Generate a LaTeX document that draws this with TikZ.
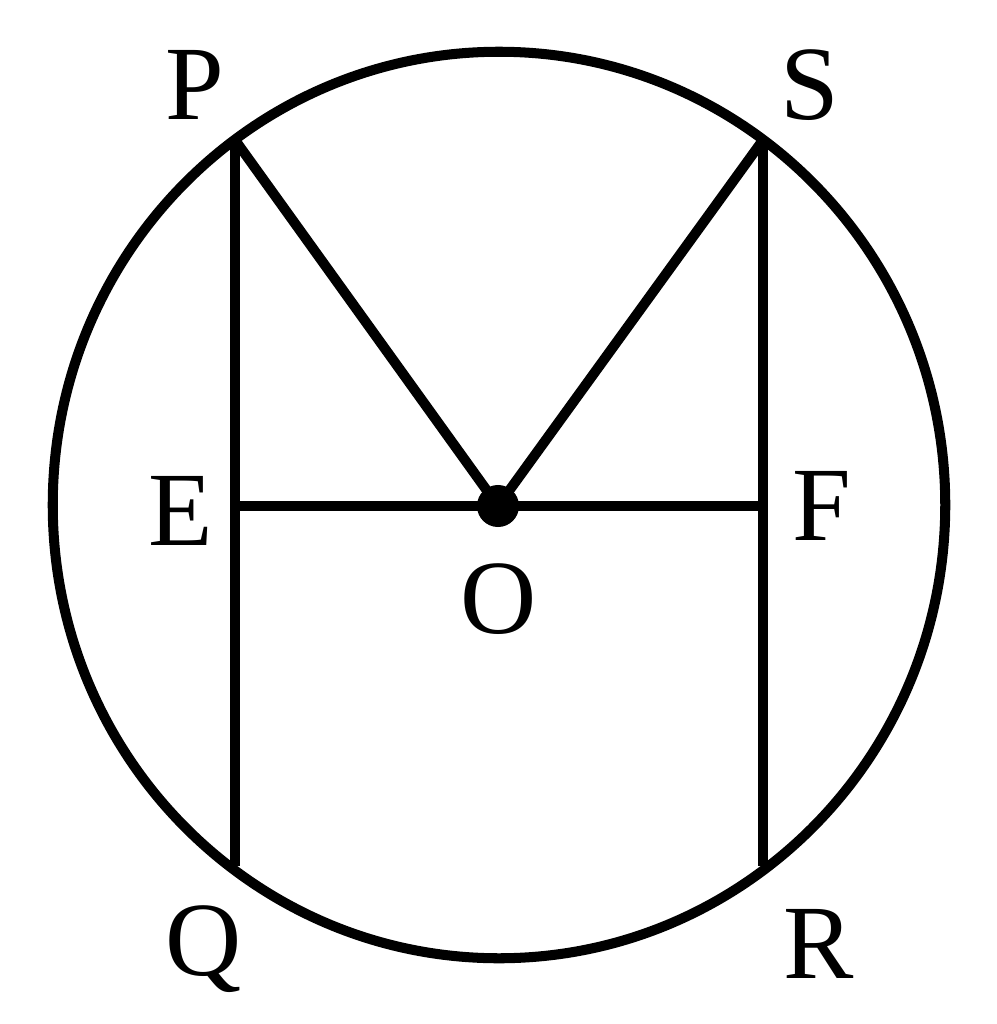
\documentclass[tikz,border=0pt]{standalone}
\usepackage{fontspec}
\setmainfont{Liberation Serif}

\begin{document}
\begin{tikzpicture}[x=0.01cm, y=-0.01cm, line width=2.85pt,
    ptname/.style={anchor=base, inner sep=0pt, font=\fontsize{30}{36}\selectfont}]

\useasboundingbox (0,0) rectangle (997,1024);

\coordinate (C) at (499, 505);
\coordinate (P) at (235, 140);
\coordinate (Q) at (235, 866);
\coordinate (S) at (763, 140);
\coordinate (R) at (763, 866);
\coordinate (E) at (235, 506);
\coordinate (F) at (763, 506);
\coordinate (O) at (498, 506);

\draw (C) ellipse [x radius=4.46cm, y radius=4.53cm];

\draw (P) -- (Q);
\draw (S) -- (R);
\draw (E) -- (F);
\draw (P) -- (O) -- (S);
\fill (O) circle [radius=0.21cm];

\node[ptname] (labP) at (195, 120) {P};
\node[ptname] (labS) at (810, 120) {S};
\node[ptname] (labE) at (181, 545) {E};
\node[ptname] (labF) at (822, 540) {F};
\node[ptname] (labO) at (499, 633) {O};
\node[ptname] (labQ) at (204, 975) {Q};
\node[ptname] (labR) at (819, 978) {R};

\end{tikzpicture}
\end{document}
